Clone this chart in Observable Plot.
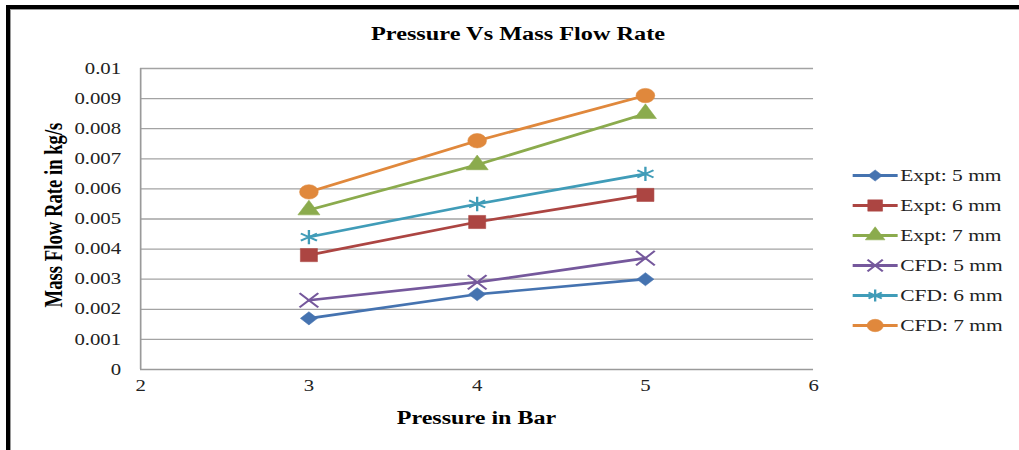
<!DOCTYPE html>
<html>
<head>
<meta charset="utf-8">
<script src="https://cdn.jsdelivr.net/npm/d3@7"></script>
<script src="https://cdn.jsdelivr.net/npm/@observablehq/plot@0.6"></script>
<style>
  html, body { margin: 0; padding: 0; background: #fff; }
  #page { position: relative; width: 1019px; height: 450px; overflow: hidden; background: #fff; }
  #frame { position: absolute; left: 6px; top: 5px; width: 1100px; height: 500px; border-left: 4px solid #000; border-top: 4px solid #000; }
  #frame2 { position: absolute; left: 10px; top: 9px; width: 1100px; height: 500px; border-left: 1px solid #9a9a9a; border-top: 1px solid #9a9a9a; }
  #stage { position: absolute; left: 0; top: 0; width: 784px; height: 450px; transform: scaleX(1.3); transform-origin: 0 0; }
  #stage svg { position: absolute; overflow: visible; }
  .ttl { position: absolute; font-family: "Liberation Serif", "Times New Roman", serif; font-weight: bold; color: #000; white-space: nowrap; }
</style>
</head>
<body>
<div id="page">
  <div id="frame"></div>
  <div id="frame2"></div>
  <div id="stage">
    <div id="chart"></div>
    <div id="legend"></div>
    <div class="ttl" id="title" style="left:6.5px;width:784px;text-align:center;top:23px;font-size:18.7px;">Pressure Vs Mass Flow Rate</div>
    <div class="ttl" id="xlabel" style="left:107.7px;width:517.7px;text-align:center;top:408px;font-size:18.5px;">Pressure in Bar</div>
    <div class="ttl" id="ylabel" style="left:41.5px;top:215px;font-size:18.7px;transform:translate(-50%,-50%) rotate(-90deg);">Mass Flow Rate in kg/s</div>
  </div>
</div>
<script>
// ---- data ----
const pressures = [3, 4, 5];
const seriesNames = ["Expt: 5 mm", "Expt: 6 mm", "Expt: 7 mm", "CFD: 5 mm", "CFD: 6 mm", "CFD: 7 mm"];
const expt5 = [0.0017, 0.0025, 0.0030];
const expt6 = [0.0038, 0.0049, 0.0058];
const expt7 = [0.0053, 0.0068, 0.0085];
const cfd5  = [0.0023, 0.0029, 0.0037];
const cfd6  = [0.0044, 0.0055, 0.0065];
const cfd7  = [0.0059, 0.0076, 0.0091];
const xTicks = [2, 3, 4, 5, 6];
const yTicks = [0, 0.001, 0.002, 0.003, 0.004, 0.005, 0.006, 0.007, 0.008, 0.009, 0.01];
const yTickLabels = ["0", "0.001", "0.002", "0.003", "0.004", "0.005", "0.006", "0.007", "0.008", "0.009", "0.01"];

// ---- styling ----
const seriesValues = [expt5, expt6, expt7, cfd5, cfd6, cfd7];
const colors = ["#4573B0", "#AC4542", "#8BAB4D", "#75589C", "#409CB8", "#E0883C"];
const symbols = ["diamond2", "square", "triangle", "times", "asterisk", "circle"];
const filled = [true, true, true, false, false, true];
const rChart = [5.9, 7.4, 6.3, 6.6, 6.8, 7.2];
const rLegend = [5.0, 6.4, 5.6, 5.4, 5.6, 6.2];

const series = seriesNames.map((name, i) => ({
  name, color: colors[i], symbol: symbols[i], filled: filled[i], r: rChart[i], rl: rLegend[i],
  rows: pressures.map((p, j) => ({series: name, p, v: seriesValues[i][j]}))
}));

function dotOpts(s, r) {
  return s.filled
    ? {symbol: s.symbol, r, fill: s.color, stroke: s.color, strokeWidth: 0.5}
    : {symbol: s.symbol, r, fill: "none", stroke: s.color, strokeWidth: 1.8};
}

const seriesMarks = series.flatMap(s => [
  Plot.line(s.rows, {x: "p", y: "v", stroke: s.color, strokeWidth: 2.7, curve: "linear"}),
  Plot.dot(s.rows, {x: "p", y: "v", ...dotOpts(s, s.r)})
]);

const chart = Plot.plot({
  width: 784,
  height: 450,
  marginLeft: 107.7,
  marginRight: 158.6,
  marginTop: 68,
  marginBottom: 81,
  style: {fontFamily: "'Liberation Serif', 'Times New Roman', serif", fontSize: "16px", color: "#222", background: "transparent"},
  x: {domain: [2, 6]},
  y: {domain: [0, 0.01]},
  marks: [
    Plot.ruleY(yTicks.slice(1), {stroke: "#a3a3a3", strokeWidth: 1.3}),
    Plot.ruleX([2], {stroke: "#9a9a9a", strokeWidth: 1.3}),
    Plot.ruleY([0], {stroke: "#9a9a9a", strokeWidth: 1.3}),
    Plot.axisY({ticks: yTicks, tickFormat: (d, i) => yTickLabels[i], tickSize: 0, tickPadding: 15, label: null, fill: "#222"}),
    Plot.axisX({ticks: xTicks, tickFormat: d => String(d), tickSize: 0, tickPadding: 10, label: null, fill: "#222"}),
    ...seriesMarks
  ]
});
chart.style.left = "0px";
chart.style.top = "0px";
document.getElementById("chart").appendChild(chart);

// ---- legend ----
const legend = Plot.plot({
  width: 134,
  height: 172,
  marginLeft: 5.4,
  marginRight: 94,
  marginTop: 10,
  marginBottom: 10,
  style: {fontFamily: "'Liberation Serif', 'Times New Roman', serif", fontSize: "16.5px", color: "#222", background: "transparent", overflow: "visible"},
  x: {domain: [0, 1], axis: null},
  y: {type: "point", domain: seriesNames, padding: 0, axis: null},
  marks: [
    ...series.flatMap(s => [
      Plot.link([s.name], {x1: 0, x2: 1, y1: d => d, y2: d => d, stroke: s.color, strokeWidth: 3}),
      Plot.dot([s.name], {x: 0.5, y: d => d, ...dotOpts(s, s.rl)})
    ]),
    Plot.text(seriesNames, {x: 1, y: d => d, text: d => d, textAnchor: "start", dx: 2, fill: "#222", fontSize: 16.5})
  ]
});
legend.style.left = "650px";
legend.style.top = "164px";
document.getElementById("legend").appendChild(legend);
</script>
</body>
</html>
